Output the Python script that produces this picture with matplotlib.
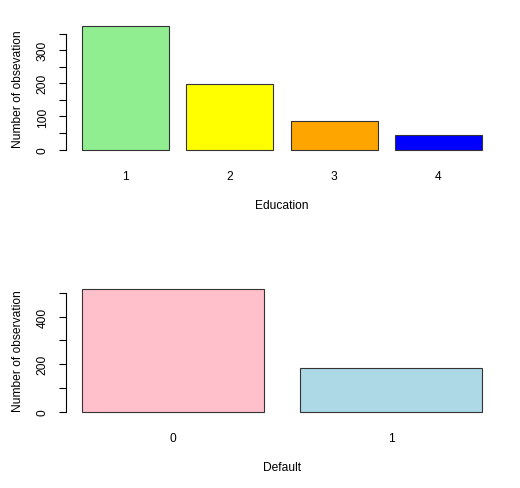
import matplotlib
matplotlib.use("Agg")
import matplotlib.pyplot as plt

edu_labels = ["1", "2", "3", "4"]
edu_counts = [372, 198, 87, 43]
edu_colors = ["lightgreen", "yellow", "orange", "blue"]

def_labels = ["0", "1"]
def_counts = [517, 183]
def_colors = ["pink", "lightblue"]

plt.rcParams['font.family'] = ['Liberation Sans', 'DejaVu Sans']
FS = 8.64

W, H = 520, 489
fig = plt.figure(figsize=(W / 100, H / 100), dpi=100)

def panel(bottom_px, top_px, labels, counts, colors, yticks, ylabels, xlabel, ylabel):
    ax = fig.add_axes([66 / W, (H - bottom_px) / H, (498 - 66) / W, (bottom_px - top_px) / H])
    n = len(counts)
    lefts = [0.2 + 1.2 * i for i in range(n)]
    centers = [l + 0.5 for l in lefts]
    ax.bar(centers, counts, width=1.0, color=colors, edgecolor="#333333", linewidth=0.8)
    xmin, xmax = 0.2, lefts[-1] + 1.0
    pad = 0.04 * (xmax - xmin)
    ax.set_xlim(xmin - pad, xmax + pad)
    ymax = max(counts)
    ax.set_ylim(-0.04 * ymax, ymax * 1.04)
    for s in ["top", "right", "bottom"]:
        ax.spines[s].set_visible(False)
    ax.spines["left"].set_bounds(yticks[0], yticks[-1])
    ax.spines["left"].set_linewidth(0.8)
    ax.set_yticks(yticks)
    ax.set_yticklabels([str(v) if v in ylabels else "" for v in yticks],
                       rotation=90, va="center", fontsize=FS)
    ax.tick_params(axis="y", length=5.0, width=0.8, pad=7.5)
    ax.set_xticks(centers)
    ax.set_xticklabels(labels, fontsize=FS)
    ax.tick_params(axis="x", length=0, pad=11)
    ax.set_xlabel(xlabel, fontsize=FS, labelpad=12.5)
    ax.set_ylabel(ylabel, fontsize=FS, labelpad=9)
    return ax

panel(155.5, 22.3, edu_labels, edu_counts, edu_colors,
      [0, 50, 100, 150, 200, 250, 300, 350], [0, 100, 200, 300],
      "Education", "Number of obsevation")
panel(417.6, 285, def_labels, def_counts, def_colors,
      [0, 100, 200, 300, 400, 500], [0, 200, 400],
      "Default", "Number of observation")

fig.savefig("out.png", dpi=100)
